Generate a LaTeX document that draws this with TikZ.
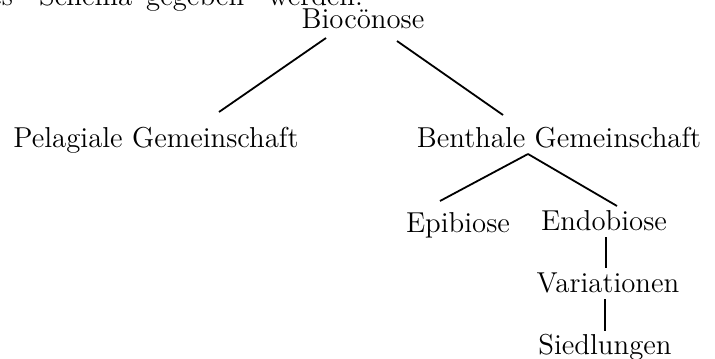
\documentclass[tikz,border=0pt]{standalone}
\usepackage{tikz}
\tikzstyle{taxon}=[inner sep=0pt, anchor=base, font=\fontsize{14.4}{17}\selectfont]
\tikzstyle{branch}=[line width=0.9pt]

\begin{document}
\begin{tikzpicture}[x=0.5pt,y=-0.5pt]
\useasboundingbox (0,0) rectangle (715,358);
\clip (0,0) rectangle (715,358);
\node[taxon,anchor=base west] (intro) at (-11,6) {es\hspace{13pt}Schema\hspace{7pt}gegeben\hspace{12pt}werden:};
\node[taxon] (bio) at (363,29) {Bioc\"onose};
\node[taxon] (pel) at (156,147) {Pelagiale Gemeinschaft};
\node[taxon] (ben) at (559,147) {Benthale Gemeinschaft};
\node[taxon] (epi) at (458,232) {Epibiose};
\node[taxon] (endo) at (604,230) {Endobiose};
\node[taxon] (var) at (608,292) {Variationen};
\node[taxon] (sied) at (605,354) {Siedlungen};
\draw[branch] ([shift={(-37,9)}]bio.base) to ([shift={(63,-35)}]pel.base);
\draw[branch] ([shift={(34,12)}]bio.base) to ([shift={(-56,-32)}]ben.base);
\draw[branch] ([shift={(-31,7)}]ben.base) to ([shift={(-18,-31)}]epi.base);
\draw[branch] ([shift={(-31,7)}]ben.base) to ([shift={(13,-24)}]endo.base);
\draw[branch] ([shift={(2,7)}]endo.base) to ([shift={(-2,-24)}]var.base);
\draw[branch] ([shift={(-3,7)}]var.base) to ([shift={(0,-23)}]sied.base);

\end{tikzpicture}
\end{document}
